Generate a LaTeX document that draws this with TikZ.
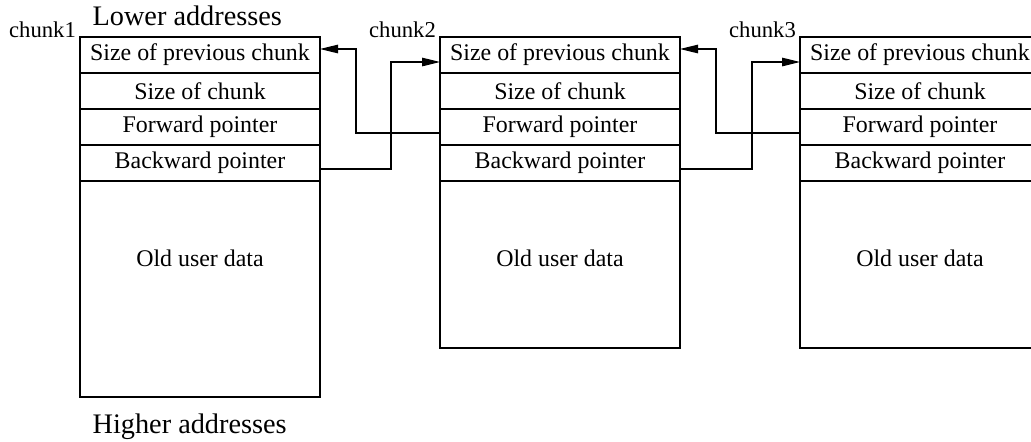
\documentclass[tikz,border=0pt]{standalone}
\usepackage{fontspec}
\setmainfont{Liberation Serif}
\usetikzlibrary{positioning,arrows.meta}

\begin{document}
\begin{tikzpicture}[>={Triangle[length=0.36cm,width=0.17cm]}, line width=0.7pt,
    field/.style={draw, minimum width=4.8cm, minimum height=0.72cm, inner sep=0pt, outer sep=0pt, font=\fontsize{13.6pt}{16pt}\selectfont},
    datatext/.style={font=\fontsize{13.6pt}{16pt}\selectfont},
    chunkname/.style={inner sep=2pt, font=\fontsize{12.9pt}{15pt}\selectfont},
    addr/.style={inner sep=0pt, font=\fontsize{16.1pt}{19pt}\selectfont}]
    \useasboundingbox (0,0) rectangle (20.62,8.82);
    \clip (0,0) rectangle (20.62,8.82);

    % Nodes
    \node[field, anchor=north west] (p1) at (1.6,8.08) {Size of previous chunk};
    \node[field, below=0pt of p1] (s1) {Size of chunk};
    \node[field, below=0pt of s1] (f1) {Forward pointer};
    \node[field, below=0pt of f1] (b1) {Backward pointer};
    \node[field, minimum height=4.32cm, below=0pt of b1] (d1) {};

    \node[field, anchor=north west] (p2) at (8.8,8.08) {Size of previous chunk};
    \node[field, below=0pt of p2] (s2) {Size of chunk};
    \node[field, below=0pt of s2] (f2) {Forward pointer};
    \node[field, below=0pt of f2] (b2) {Backward pointer};
    \node[field, minimum height=3.34cm, below=0pt of b2] (d2) {};

    \node[field, anchor=north west] (p3) at (16.0,8.08) {Size of previous chunk};
    \node[field, below=0pt of p3] (s3) {Size of chunk};
    \node[field, below=0pt of s3] (f3) {Forward pointer};
    \node[field, below=0pt of f3] (b3) {Backward pointer};
    \node[field, minimum height=3.34cm, below=0pt of b3] (d3) {};

    \node[datatext, yshift=-1.54cm] (u1) at (d1.north) {Old user data};
    \node[datatext, yshift=-1.54cm] (u2) at (d2.north) {Old user data};
    \node[datatext, yshift=-1.54cm] (u3) at (d3.north) {Old user data};

    \node[chunkname, anchor=base east] (c1) at (p1.north west) {chunk1};
    \node[chunkname, anchor=base east] (c2) at (p2.north west) {chunk2};
    \node[chunkname, anchor=base east] (c3) at (p3.north west) {chunk3};

    \node[addr, anchor=base west] (lo) at ([xshift=0.24cm, yshift=0.23cm]p1.north west) {Lower addresses};
    \node[addr, anchor=base west] (hi) at ([xshift=0.24cm, yshift=-0.72cm]d1.south west) {Higher addresses};

    % Edges
    \draw[->] ([yshift=-0.12cm]f2.west) -- ++(-1.68,0) |- ([yshift=0.12cm]p1.east);
    \draw[->] ([yshift=-0.12cm]b1.east) -- ++(1.42,0) |- ([yshift=-0.14cm]p2.west);
    \draw[->] ([yshift=-0.12cm]f3.west) -- ++(-1.68,0) |- ([yshift=0.12cm]p2.east);
    \draw[->] ([yshift=-0.12cm]b2.east) -- ++(1.44,0) |- ([yshift=-0.14cm]p3.west);

\end{tikzpicture}
\end{document}
